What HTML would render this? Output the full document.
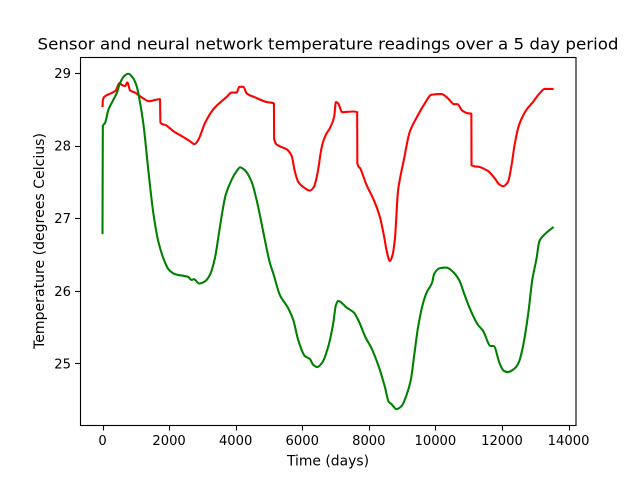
<!DOCTYPE html>
<html>
<head>
<meta charset="utf-8">
<title>Sensor and neural network temperature readings</title>
<style>
html,body{margin:0;padding:0;background:#fff;width:640px;height:478px;overflow:hidden}
svg{display:block;font-family:"DejaVu Sans","Liberation Sans",sans-serif;fill:#000}
</style>
</head>
<body>
<svg id="chart" width="640" height="478" viewBox="0 0 640 478" xmlns="http://www.w3.org/2000/svg">
<rect x="0" y="0" width="640" height="478" fill="#fff"></rect>
<text x="328" y="49.3" font-size="16.3" text-anchor="middle" textLength="581" lengthAdjust="spacingAndGlyphs">Sensor and neural network temperature readings over a 5 day period</text>
<text x="328" y="465.7" font-size="14" text-anchor="middle" textLength="82" lengthAdjust="spacingAndGlyphs">Time (days)</text>
<text x="0" y="0" font-size="14" text-anchor="middle" textLength="216" lengthAdjust="spacingAndGlyphs" transform="translate(44 241) rotate(-90)">Temperature (degrees Celcius)</text>
<g id="series"></g>
<g id="axes"></g>
<rect x="80.5" y="57.5" width="495.5" height="368" fill="none" stroke="#000" stroke-width="1.1"></rect>
</svg>
<script>
const xTicks = [0, 2000, 4000, 6000, 8000, 10000, 12000, 14000];
const yTicks = [25, 26, 27, 28, 29];

const redDays = [0,10,50,150,300,400,505,600,680,745,830,976,1176,1407,1500,1727,1740,1907,2127,2420,2627,2768,2878,3078,3328,3730,3880,4030,4110,4230,4330,4580,4930,5150,5155,5310,5530,5680,5780,5880,6030,6230,6350,6450,6600,6710,6830,6960,7010,7080,7200,7530,7650,7655,7750,7930,8150,8330,8450,8550,8630,8710,8780,8880,8930,9050,9230,9430,9680,9880,10180,10380,10560,10660,10810,10980,11080,11085,11330,11580,11780,11930,12030,12180,12280,12380,12510,12730,12930,13130,13280,13430,13550];
const redTemps = [28.53,28.62,28.67,28.7,28.73,28.76,28.86,28.83,28.82,28.87,28.76,28.73,28.665,28.61,28.62,28.64,28.315,28.28,28.2,28.12,28.06,28.02,28.08,28.31,28.5,28.67,28.73,28.73,28.81,28.81,28.72,28.665,28.6,28.58,28.09,27.995,27.95,27.86,27.64,27.5,27.43,27.38,27.43,27.6,28.01,28.15,28.24,28.4,28.6,28.58,28.46,28.47,28.46,27.76,27.68,27.46,27.25,27.02,26.77,26.52,26.41,26.49,26.7,27.39,27.53,27.8,28.19,28.38,28.58,28.7,28.71,28.65,28.57,28.57,28.48,28.445,28.44,27.73,27.705,27.65,27.55,27.46,27.44,27.5,27.71,28.01,28.28,28.49,28.6,28.72,28.78,28.78,28.78];

const greenDays = [0,10,75,175,325,425,525,655,775,905,1025,1125,1225,1377,1527,1677,1827,1977,2177,2577,2677,2747,2907,3077,3227,3377,3527,3700,3880,4050,4130,4280,4480,4630,4830,5030,5130,5330,5580,5730,5880,6080,6230,6330,6450,6600,6780,6930,7010,7080,7330,7550,7680,7910,8080,8310,8480,8600,8680,8830,8980,9130,9260,9380,9480,9630,9750,9900,9960,10130,10330,10530,10710,10880,11030,11280,11430,11660,11750,11930,12050,12180,12380,12510,12620,12790,12910,13040,13120,13290,13550];
const greenTemps = [26.78,28.27,28.31,28.49,28.63,28.72,28.86,28.96,28.99,28.94,28.82,28.6,28.31,27.66,27.07,26.68,26.45,26.3,26.23,26.19,26.15,26.16,26.1,26.13,26.22,26.45,26.88,27.32,27.53,27.66,27.7,27.66,27.5,27.25,26.81,26.38,26.24,25.94,25.76,25.6,25.32,25.1,25.06,24.98,24.95,25.01,25.23,25.55,25.8,25.86,25.77,25.7,25.6,25.35,25.21,24.94,24.68,24.47,24.44,24.37,24.41,24.56,24.77,25.17,25.5,25.83,25.99,26.11,26.23,26.31,26.32,26.26,26.15,25.94,25.76,25.53,25.45,25.24,25.24,25,24.9,24.88,24.93,25.02,25.21,25.69,26.15,26.45,26.68,26.78,26.88];

const NS = 'http://www.w3.org/2000/svg';
const xScale = function (v) { return 102.5 + v * 0.03329; };
const yScale = function (v) { return 73 + (29 - v) * 72.6; };
const axes = document.getElementById('axes');
const series = document.getElementById('series');

// Monotone cubic through the data points, so the curves read smooth without overshoot.
function pathFor(days, temps) {
  const px = days.map(xScale);
  const py = temps.map(yScale);
  const n = px.length;
  const slopes = [];
  for (let i = 0; i < n - 1; i++) {
    slopes.push((py[i + 1] - py[i]) / (px[i + 1] - px[i]));
  }
  const tangents = [slopes[0]];
  for (let i = 1; i < n - 1; i++) {
    const a = slopes[i - 1];
    const b = slopes[i];
    if (a * b <= 0) {
      tangents.push(0);
    } else {
      const ha = px[i] - px[i - 1];
      const hb = px[i + 1] - px[i];
      tangents.push(3 * (ha + hb) / ((2 * hb + ha) / a + (hb + 2 * ha) / b));
    }
  }
  tangents.push(slopes[n - 2]);
  let d = 'M' + px[0].toFixed(2) + ' ' + py[0].toFixed(2);
  for (let i = 0; i < n - 1; i++) {
    const h = (px[i + 1] - px[i]) / 3;
    d += 'C' + (px[i] + h).toFixed(2) + ' ' + (py[i] + tangents[i] * h).toFixed(2) + ' ' +
      (px[i + 1] - h).toFixed(2) + ' ' + (py[i + 1] - tangents[i + 1] * h).toFixed(2) + ' ' +
      px[i + 1].toFixed(2) + ' ' + py[i + 1].toFixed(2);
  }
  return d;
}

const redLine = document.createElementNS(NS, 'path');


redLine.setAttribute('d', pathFor(redDays, redTemps));
redLine.setAttribute('fill', 'none');
redLine.setAttribute('stroke', '#ff0000');
redLine.setAttribute('stroke-width', '2.08');
redLine.setAttribute('stroke-linejoin', 'round');
series.appendChild(redLine);

const greenLine = document.createElementNS(NS, 'path');


greenLine.setAttribute('d', pathFor(greenDays, greenTemps));
greenLine.setAttribute('fill', 'none');
greenLine.setAttribute('stroke', '#008000');
greenLine.setAttribute('stroke-width', '2.08');
greenLine.setAttribute('stroke-linejoin', 'round');
series.appendChild(greenLine);

xTicks.forEach(function (t) {
  const x = Math.round(xScale(t)) + 0.5;
  const tick = document.createElementNS(NS, 'line');
  
  
  tick.setAttribute('x1', x);
  tick.setAttribute('x2', x);
  tick.setAttribute('y1', 425.5);
  tick.setAttribute('y2', 430.5);
  tick.setAttribute('stroke', '#000');
  tick.setAttribute('stroke-width', '1.1');
  axes.appendChild(tick);
  const label = document.createElementNS(NS, 'text');
  
  
  label.setAttribute('x', xScale(t));
  label.setAttribute('y', 445);
  label.setAttribute('font-size', '13.5');
  label.setAttribute('text-anchor', 'middle');
  label.setAttribute('textLength', String(String(t).length * 8.35));
  label.setAttribute('lengthAdjust', 'spacingAndGlyphs');
  label.textContent = String(t);
  axes.appendChild(label);
});

yTicks.forEach(function (t) {
  const y = Math.round(yScale(t)) + 0.5;
  const tick = document.createElementNS(NS, 'line');
  
  
  tick.setAttribute('x1', 75);
  tick.setAttribute('x2', 80.5);
  tick.setAttribute('y1', y);
  tick.setAttribute('y2', y);
  tick.setAttribute('stroke', '#000');
  tick.setAttribute('stroke-width', '1.1');
  axes.appendChild(tick);
  const label = document.createElementNS(NS, 'text');
  
  
  label.setAttribute('x', 71);
  label.setAttribute('y', yScale(t) + 5);
  label.setAttribute('font-size', '13.5');
  label.setAttribute('text-anchor', 'end');
  label.setAttribute('textLength', String(String(t).length * 8.35));
  label.setAttribute('lengthAdjust', 'spacingAndGlyphs');
  label.textContent = String(t);
  axes.appendChild(label);
});
</script>
</body>
</html>
